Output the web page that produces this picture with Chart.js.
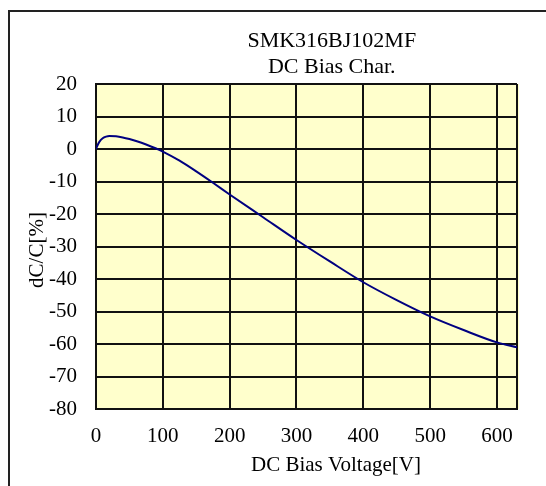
<!DOCTYPE html>
<html>
<head>
<meta charset="utf-8">
<script src="https://cdn.jsdelivr.net/npm/chart.js@4.4.1/dist/chart.umd.min.js"></script>
<style>
  html, body { margin: 0; padding: 0; background: #fff; }
  #wrap { position: relative; width: 546px; height: 486px; overflow: hidden; }
  #frame {
    position: absolute; left: 8px; top: 10px; width: 600px; height: 600px;
    border-top: 2px solid #222; border-left: 2px solid #222;
  }
  #chart { position: absolute; left: 0; top: 0; }
</style>
</head>
<body>
<div id="wrap">
  <div id="frame"></div>
  <canvas id="chart" width="546" height="486"></canvas>
</div>
<script>
// DC bias voltage [V] and capacitance change [%]
const voltage = [0, 2, 5, 10, 15, 20, 30, 40, 50, 60, 75, 90, 100, 125, 150, 175, 200,
  250, 300, 350, 400, 450, 500, 550, 600, 630];
const dcc = [0, 1.0, 2.2, 3.3, 3.8, 4.0, 3.9, 3.55, 3.05, 2.45, 1.4, 0.15, -0.8, -3.6, -6.9, -10.4, -14,
  -21, -28, -34.6, -41, -46.5, -51.5, -55.7, -59.5, -61];

const xTicks = [0, 100, 200, 300, 400, 500, 600, 630];
const yTicks = [20, 10, 0, -10, -20, -30, -40, -50, -60, -70, -80];

const titleLines = ['SMK316BJ102MF', 'DC Bias Char.'];
const xTitle = 'DC Bias Voltage[V]';
const yTitle = 'dC/C[%]';

const serif = "'Liberation Serif', 'Times New Roman', serif";

const decor = {
  id: 'decor',
  beforeDraw(chart) {
    const { ctx, chartArea: a } = chart;
    ctx.save();
    ctx.fillStyle = '#ffffcc';
    ctx.fillRect(a.left, a.top, a.right - a.left + 2, a.bottom - a.top);
    ctx.restore();
  },
  afterDraw(chart) {
    const { ctx, chartArea: a } = chart;
    ctx.save();
    ctx.fillStyle = '#000';
    ctx.textAlign = 'center';
    ctx.textBaseline = 'middle';
    ctx.font = '22px ' + serif;
    const cx = a.left + (a.right - a.left) * 0.56;
    ctx.fillText(titleLines[0], cx, 41);
    ctx.fillText(titleLines[1], cx, 67);
    ctx.font = '21px ' + serif;
    ctx.fillText(xTitle, a.left + (a.right - a.left) * 0.57, 465);
    ctx.translate(37, 250);
    ctx.rotate(-Math.PI / 2);
    ctx.fillText(yTitle, 0, 0);
    ctx.restore();
  }
};

new Chart(document.getElementById('chart'), {
  type: 'line',
  data: {
    datasets: [{
      data: voltage.map((v, i) => ({ x: v, y: dcc[i] })),
      borderColor: '#000080',
      borderWidth: 2,
      pointRadius: 0,
      cubicInterpolationMode: 'monotone',
      fill: false
    }]
  },
  options: {
    responsive: false,
    animation: false,
    layout: { padding: { left: 8, top: 84, right: 29, bottom: 0 } },
    plugins: { legend: { display: false }, title: { display: false }, tooltip: { enabled: false } },
    scales: {
      x: {
        type: 'linear',
        min: 0,
        max: 630,
        afterFit: s => { s.height = 77; },
        afterBuildTicks: s => { s.ticks = xTicks.map(v => ({ value: v })); },
        grid: { color: '#111', lineWidth: 2, drawTicks: false },
        border: { color: '#111', width: 2 },
        ticks: {
          autoSkip: false,
          maxRotation: 0,
          padding: 15,
          color: '#000',
          font: { family: serif, size: 21 },
          callback: v => (v % 100 === 0 ? v : '')
        }
      },
      y: {
        min: -80,
        max: 20,
        afterFit: s => { s.width = 88; },
        afterBuildTicks: s => { s.ticks = yTicks.map(v => ({ value: v })); },
        grid: { color: '#111', lineWidth: 2, drawTicks: false },
        border: { color: '#111', width: 2 },
        ticks: {
          autoSkip: false,
          padding: 19,
          color: '#000',
          font: { family: serif, size: 21 }
        }
      }
    }
  },
  plugins: [decor]
});
</script>
</body>
</html>
